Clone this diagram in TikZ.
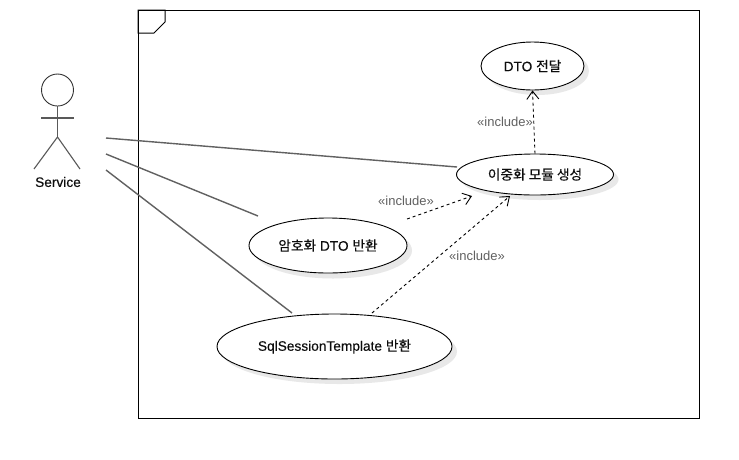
\documentclass[tikz,border=0pt]{standalone}
\usepackage{fontspec}
\setmainfont{Liberation Sans}[FakeBold=0.25]
\newfontfamily\krfont{Noto Sans CJK KR}[FakeBold=0.25]
\newfontfamily\lblfont{Liberation Sans}
\usetikzlibrary{arrows.meta,shapes.geometric}
\newcommand{\kr}[1]{{\krfont #1}}
\tikzset{
  usecase/.style={ellipse,draw=black,fill=white,line width=0.9pt,inner sep=0pt,minimum width=2*#1,align=center,font=\fontsize{13.7}{15}\selectfont,text=black!95},
  shade/.style={fill=black!9,draw=none},
  assoc/.style={draw=black!62,line width=1.4pt},
  incl/.style={draw=black,line width=0.9pt,dash pattern=on 3pt off 3pt,-{Straight Barb[length=8pt,width=12pt,line width=0.9pt]}},
  lbl/.style={font=\lblfont\fontsize{13}{15}\selectfont,text=black!62,inner sep=0pt},
  stick/.style={draw=black!65,line width=1.1pt},
  frameline/.style={draw=black,line width=1pt},
  tabline/.style={draw=black,line width=1pt}
}
\begin{document}
\begin{tikzpicture}[x=1pt,y=-1pt]
\useasboundingbox (0,0) rectangle (739,459);
\fill[white] (0,0) rectangle (739,459);
% frame
\draw[frameline] (138,10) rectangle (699,418);
\draw[tabline] (138,33) -- (138,10) -- (165,10) -- (165,22) -- (154,33) -- cycle;
% shadows
\fill[shade] (537.5,71) ellipse [x radius=51.5,y radius=24];
\fill[shade] (540,179.5) ellipse [x radius=78.5,y radius=20.5];
\fill[shade] (333,250.5) ellipse [x radius=79,y radius=28];
\fill[shade] (339.5,351.5) ellipse [x radius=117.5,y radius=32.5];
% use cases
\node[usecase=51.5pt,minimum height=48pt] (dto) at (532.5,66) {DTO \kr{전달}};
\node[usecase=78.5pt,minimum height=41pt] (dual) at (535,174.5) {\kr{이중화 모듈 생성}};
\node[usecase=79pt,minimum height=55pt] (enc) at (328,245.5) {\kr{암호화} DTO \kr{반환}};
\node[usecase=117.5pt,minimum height=65pt] (sql) at (334.5,346.5) {SqlSessionTemplate \kr{반환}};
% actor
\node[circle,draw=black!80,fill=white,line width=0.9pt,minimum size=32pt,inner sep=0pt] (head) at (57.5,90) {};
\coordinate (hip) at (57.5,137);
\coordinate (armL) at (41,118);
\coordinate (armR) at (74,118);
\coordinate (legL) at (34,169);
\coordinate (legR) at (80,169);
\draw[stick] (head.south) -- (hip);
\draw[stick] (armL) -- (armR);
\draw[stick] (legL) -- (hip) -- (legR);
\node[font=\fontsize{13.7}{15}\selectfont,text=black!95,inner sep=0pt] (service) at (58,182) {Service};
% associations
\coordinate (a1) at (106,138);
\coordinate (a2) at (106,154);
\coordinate (a3) at (106,170);
\coordinate (e1) at (457,167);
\coordinate (e2) at (258,216);
\coordinate (e3) at (292,313);
\draw[assoc] (a1) -- (e1);
\draw[assoc] (a2) -- (e2);
\draw[assoc] (a3) -- (e3);
% includes
\coordinate (s2) at (407,219);
\coordinate (t2) at (472,196);
\coordinate (s3) at (372,313);
\coordinate (t3) at (510,196);
\draw[incl] (dual.north) -- (dto.south);
\draw[incl] (s2) -- (t2);
\draw[incl] (s3) -- (t3);
\node[lbl] (l1) at (505,121.5) {«include»};
\node[lbl] (l2) at (406,200.5) {«include»};
\node[lbl] (l3) at (477,256) {«include»};
\end{tikzpicture}
\end{document}
